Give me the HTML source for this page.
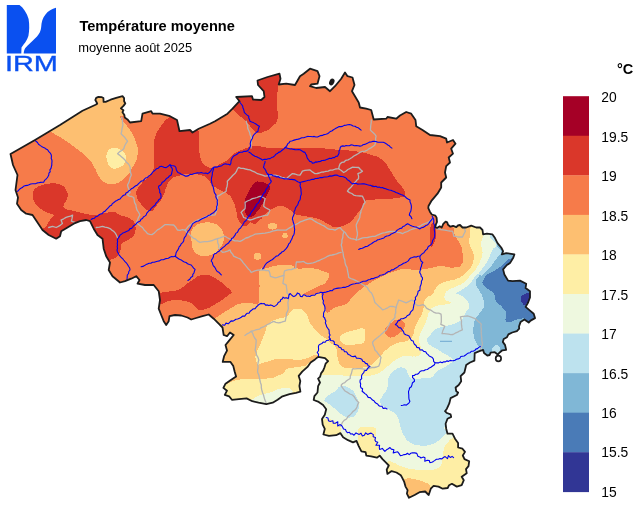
<!DOCTYPE html>
<html><head><meta charset="utf-8"><title>Température moyenne</title>
<style>
html,body{margin:0;padding:0;background:#fff}
svg{display:block;will-change:transform;font-family:"Liberation Sans",Arial,Helvetica,sans-serif;fill:#000}
</style></head><body>
<svg width="640" height="507" viewBox="0 0 640 507">
<rect width="640" height="507" fill="#fff"/>
<defs><clipPath id="be"><path d="M10.5 154 L35 140 L60 125 L82.5 110.8 L95.6 104.7 L97.2 103.7 L96.6 102.2 L95.3 100 L96.2 97.8 L98.4 96.9 L101.9 97.2 L103.4 98.1 L103.6 101.9 L105.6 101.9 L110.6 99.7 L116.2 97.8 L122.5 96.2 L124.1 98.1 L124.1 101.2 L125.3 103.4 L123.7 105.6 L120.9 108.4 L123.4 110.3 L122.5 112.2 L124.4 115 L124.7 117.5 L127.5 119.4 L130 122.5 L141.2 121.2 L142.5 113.7 L151.2 111.2 L152.5 113.7 L160 113.7 L170 116.2 L177 120 L178.7 127.5 L179.5 131.2 L190 130 L192.5 132.5 L198.7 128.7 L210 123.7 L215 121.2 L227.5 113.7 L232.5 108.7 L239.5 101.2 L236.2 97 L252 96.2 L253 99.5 L261.2 100 L264.5 97 L263.7 91.2 L258 85 L257.5 80.5 L267.5 77 L279.5 73.7 L280.5 78.7 L278.7 84.5 L286.2 83.7 L295 85 L300 76.2 L303.7 73.7 L310 68.7 L317.5 71.2 L319.5 76.2 L317.5 83.7 L311.2 84.5 L310 86.2 L316.2 88 L325 87 L330 91.2 L335 86.2 L341.2 78.7 L345 72.5 L347.5 76.2 L352.5 77.5 L354.5 85 L352 91.2 L358.7 102.5 L360 107.5 L366.2 108.7 L371.2 110 L373.7 119.5 L386.2 118.7 L387.5 117 L396.2 118.7 L400 115.5 L406.2 112 L411.2 113.7 L415.5 120 L416.2 126.2 L422.5 130 L430 135 L440 136.2 L446.2 138.7 L447 142.5 L453 140 L455.5 143.7 L451.2 148.7 L453 153.7 L448.7 157.5 L450 162.5 L446.2 166.2 L445 172.5 L446.2 177.5 L441.2 182.5 L441.2 187.5 L437.5 193.7 L431.2 201.2 L428.5 206 L428.3 208.2 L429.9 211.7 L431.8 214.5 L435.4 215.6 L436.6 217.6 L437 222 L435.8 224.7 L435.4 227.5 L437 227.9 L439.7 226.3 L441.7 227.5 L443.3 223.9 L445.6 221.6 L447.2 222.4 L448 224.7 L450.4 226.7 L453.1 225.9 L456.3 227.1 L457.9 225.5 L460 225 L462.5 227.5 L466.2 227.5 L471.2 225.6 L476.2 227.5 L480 227.5 L482.5 230 L483.1 234.4 L486.9 233.7 L492.5 234.4 L495 238.1 L497.5 243.1 L501.2 247.5 L503.1 251.2 L501.9 254.4 L506.2 253.1 L514.4 254.4 L513.1 258.1 L510 263.1 L506.9 265 L503.1 269.4 L504.4 274.5 L508.1 280.6 L512.5 281.2 L520 280.6 L526.2 283.7 L525.6 288.1 L530 291.2 L530 297.5 L528.1 302.5 L525.6 306.9 L530 310.6 L533.7 313.7 L535 318.1 L530.6 320.6 L528.7 322.5 L524.4 319.4 L520.6 321.9 L519 326.5 L519.2 328.7 L516.9 331.1 L512.2 332.5 L508.4 334.4 L507 337.2 L503.7 339 L502.8 341.9 L505.1 345.1 L506.1 349.8 L502.3 350.3 L500 352.2 L497.8 354.4 L494.8 352.2 L490.6 352.6 L489.7 355 L487.3 355.5 L484 353.1 L483.1 349.8 L479.4 351.2 L474.7 353.1 L474.4 360.6 L470 362.5 L466.2 365 L464.4 372.5 L460.6 376.2 L461.2 381.2 L458.7 385 L455.6 387.5 L456.2 391.2 L458.1 392.5 L456.9 395 L450.6 398.1 L449.4 403.1 L446.9 408.7 L445 411.2 L446.9 413 L450.6 414.4 L451.2 416.9 L447.5 418.7 L445.6 423.7 L446.2 428.7 L447.5 433.7 L452.5 433.7 L455 438.7 L458.1 443.1 L458.1 447.5 L462.5 448.7 L465 451.9 L462.8 455.5 L464.5 459.1 L469.2 461.2 L468.5 466.2 L466 469.2 L466.7 473.2 L461.7 476.7 L463.8 480.2 L461.7 485.2 L456.8 486.6 L451.9 483.8 L449.1 485.2 L447.7 488 L442.7 488.7 L438.5 486.6 L433.6 485.9 L430.8 488.7 L428.7 495 L425.2 491.5 L419.5 492.2 L414.6 495 L409 497.8 L406.9 493.6 L407.6 490.1 L405.5 486.6 L404.1 481.6 L402 477.4 L400.8 475.3 L396.5 472.5 L391.6 471.1 L387.4 473.9 L386.7 469.7 L388.8 465.5 L386 462.7 L382.5 459.1 L379.7 455.6 L376.9 457.7 L371.2 456.3 L366.3 455.6 L365.6 452.1 L361.4 451.4 L358.6 445.8 L356.5 440.9 L353 442.3 L348 440.2 L343.1 437.3 L340.3 433.1 L336.1 435.2 L329 435.9 L323.4 434.5 L324.8 428.9 L322.7 424.7 L322 419.1 L324.8 414.8 L326.2 409.2 L323.1 405 L318.7 401.9 L313.7 400 L314.4 396.2 L317.5 392.5 L318.1 386.2 L320 382.5 L318.1 378.7 L320 376.9 L321.2 373.1 L323.1 370.6 L324.4 367.5 L325.6 363.7 L328.1 361.2 L325 358.1 L318.1 356.9 L315 359.4 L310.6 362.5 L307.5 366.9 L302.2 371.7 L298.7 375.9 L300.3 381 L299.4 386 L300.4 391.6 L295.9 392.8 L289.5 394.2 L282.5 396.3 L277.6 399.8 L272.7 402.7 L266.3 404.1 L258.6 402.7 L252.3 401.2 L246.6 398.4 L238.9 399.1 L231.9 399.8 L229.1 396.3 L224.8 394.9 L227 390.7 L223.4 387.9 L225.5 383.7 L230.5 380.2 L236.1 376.6 L234.7 371.7 L233.3 366.1 L230.5 361.9 L222.7 361.9 L224.1 356.2 L227 350.6 L225.5 345 L228.7 341.2 L233.7 335 L230 332.5 L227 336.2 L223.7 335 L222.5 327.5 L218.7 323.7 L213.7 318.7 L208.7 314.5 L202.5 316.2 L196.2 318 L191.2 319.5 L187.5 317.5 L181.2 315.5 L175 315 L169.5 316.2 L168.7 321.2 L166.2 325 L163.7 321.2 L161.2 315 L158.7 308.7 L160 300 L158.7 291.2 L153.7 285 L145 285 L137.5 283.7 L139.5 280 L136.2 276.2 L131.2 278.7 L125 281.2 L120 282.5 L112.5 276.2 L108.7 270 L110 262.5 L106.2 256.2 L103.7 248.7 L102.5 238.7 L97.5 235 L93.7 228.7 L90 221.2 L86.2 220 L80 221.2 L73.7 223.7 L67.5 227.5 L61.2 231.2 L60 236.2 L56.2 238.7 L48.7 235 L42.5 230 L37.5 222.5 L32.5 215 L26.2 213.7 L21.2 210 L17 203.7 L18 197.5 L15.5 190 L17.5 175 L13 165Z"/></clipPath></defs>
<g fill="#0a50f0">
<path d="M6.8 5 L19.5 5 C23.5 8 27 13 28.6 19 C29.6 25 29.3 31 28.4 36 C27 40.5 24 44 21.5 47.5 L21.3 53.6 L6.8 53.6Z"/>
<path d="M56 7.8 C52 8.8 48 11 45.5 14.5 C42.5 18 41.5 22 41.2 27 C40.8 31 39.5 33.5 37 36.5 C33 40.5 28.5 44.5 25.3 48 C24 50 23.8 52 23.7 53.6 L56 53.6Z"/>
<text x="4.9" y="70.6" font-size="22" textLength="53" lengthAdjust="spacingAndGlyphs" stroke="#0a50f0" stroke-width="0.35">IRM</text>
</g>
<text x="79.4" y="30.8" font-size="14.6" font-weight="bold">Température moyenne</text>
<text x="78.2" y="51.7" font-size="12.9">moyenne août 2025</text>
<g clip-path="url(#be)" shape-rendering="crispEdges">
<rect x="0" y="60" width="560" height="447" fill="#f67b4a"/>
<path d="M233.7 110 C239.4 117 241.5 116.5 246.2 121.2 C250.9 125.9 248.2 124.5 251.2 127.5 C254.2 130.5 253.8 131.5 257.5 132.5 C261.2 133.5 261 132.9 265 131.2 C269 129.5 269.2 129.5 272.5 126.2 C275.8 122.9 276.3 124.4 277.5 118.7 C278.7 113 277 112 277 105 C277 98 277 98 277.5 92.5 C278 87 276.7 91.8 278.7 84.5 C280.7 77.2 291.3 68.9 285 65 C278.7 61.1 271 62 255 70 C239 78 230.7 84.3 225 95 C219.3 105.7 228 103 233.7 110Z" fill="#da372a"/>
<path d="M168.7 117.5 C163.4 122.2 163.7 122.2 160 127.5 C156.3 132.8 156.7 131.5 155 137.5 C153.3 143.5 154 142 153.7 150 C153.4 158 154.7 160.8 153.7 167.5 C152.7 174.2 153 171 150 175 C147 179 146 178.5 142.5 182.5 C139 186.5 138.5 186.1 137 190 C135.5 193.9 135.9 193.3 137 197 C138.1 200.7 138.3 200.5 141 204 C143.7 207.5 144.1 208.1 147 210 C149.9 211.9 149.9 211.7 152 211 C154.1 210.3 152.2 211.1 155 207.5 C157.8 203.9 159.5 202.8 162.5 197.5 C165.5 192.2 164.2 192.2 166.2 187.5 C168.2 182.8 167 183 170 180 C173 177 172.2 177.9 177.5 176.2 C182.8 174.5 184 174 190 173.7 C196 173.4 195.3 173.7 200 175 C204.7 176.3 204.2 176 207.5 178.7 C210.8 181.4 209.2 182 212.5 185 C215.8 188 216 187.7 220 190 C224 192.3 224.2 191 227.5 193.7 C230.8 196.4 230.2 195.7 232.5 200 C234.8 204.3 234.9 205.3 236.2 210 C237.5 214.7 236.2 213.8 237.5 217.5 C238.8 221.2 238.9 221.4 241.2 223.7 C243.5 226 243.9 226.5 246.2 226.2 C248.5 225.9 247.7 223.2 250 222.5 C252.3 221.8 252.3 224.4 255 223.7 C257.7 223 256.7 223 260 220 C263.3 217 263.5 215.8 267.5 212.5 C271.5 209.2 271 209.2 275 207.5 C279 205.8 278.5 205.5 282.5 206.2 C286.5 206.9 286.7 207.9 290 210 C293.3 212.1 291 212.3 295 214 C299 215.7 299 214.9 305 216.2 C311 217.5 311.5 216.7 317.5 218.7 C323.5 220.7 322.8 221.5 327.5 223.7 C332.2 225.9 330.7 226.5 335 227 C339.3 227.5 339.4 227 343.7 225.5 C348 224 347.9 224 351.2 221.2 C354.5 218.4 353.2 218.7 356.2 215 C359.2 211.3 360.2 211.2 362.5 207.5 C364.8 203.8 361.7 203.3 365 201.2 C368.3 199.1 368.3 200.2 375 199.5 C381.7 198.8 383.3 199.2 390 198.7 C396.7 198.2 396 198.5 400 197.5 C404 196.5 404.3 197.7 405 195 C405.7 192.3 404.8 191.5 402.5 187.5 C400.2 183.5 399.5 184.7 396.2 180 C392.9 175.3 393.7 175.3 390 170 C386.3 164.7 387.8 164.1 382.5 160 C377.2 155.9 377.3 156.8 370 154.5 C362.7 152.2 364.3 152.5 355 151.2 C345.7 149.9 345 150.4 335 149.5 C325 148.6 326.8 148.5 317.5 148 C308.2 147.5 308.7 147.5 300 147.5 C291.3 147.5 293 147.9 285 148 C277 148.1 277.3 148.5 270 148 C262.7 147.5 262.8 146.3 257.5 146 C252.2 145.7 253.3 146.3 250 147 C246.7 147.7 249 147.1 245 148.7 C241 150.3 239.7 150 235 153 C230.3 156 231.5 157.1 227.5 160 C223.5 162.9 223.9 162 220 164 C216.1 166 216.7 167 213 167.5 C209.3 168 209.3 168 206.2 166 C203.1 164 203.2 165.6 201.2 160 C199.2 154.4 199.4 152.3 198.7 145 C198 137.7 199.7 139.2 198.7 132.5 C197.7 125.8 200 126 195 120 C190 114 187 110.7 180 110 C173 109.3 174 112.8 168.7 117.5Z" fill="#da372a"/>
<path d="M33.7 190 C32.9 192.5 32 193.2 33 197.5 C34 201.8 33.6 202.2 37.5 206.2 C41.4 210.2 43.2 210.2 47.5 212.5 C51.8 214.8 53 213 53.7 215 C54.4 217 52 217 50 220 C48 223 48.2 223.2 46.2 226.2 C44.2 229.2 41.5 226.2 42.5 231.2 C43.5 236.2 41.3 244.8 50 245 C58.7 245.2 64.9 237.1 75 232 C85.1 226.9 83 226.5 88 226 C93 225.5 90.5 226.3 93.7 230 C96.9 233.7 97.7 234.7 100 240 C102.3 245.3 100.5 245.3 102.5 250 C104.5 254.7 105.2 255 107.5 257.5 C109.8 260 108.7 259.8 111.2 259.5 C113.7 259.2 114.5 258.7 117 256.2 C119.5 253.7 119.2 253.3 120.5 250 C121.8 246.7 119.5 246.7 122 243.7 C124.5 240.7 126.7 241.4 130 238.7 C133.3 236 133.2 237.4 134.5 233.7 C135.8 230 136.2 229 135 225 C133.8 221 134 221.4 130 218.7 C126 216 124.3 216.8 120 215 C115.7 213.2 117.7 212.5 113.7 212 C109.7 211.5 110 212.2 105 213 C100 213.8 100.3 214.8 95 215 C89.7 215.2 90.3 214.7 85 213.7 C79.7 212.7 80.2 212.5 75 211.2 C69.8 209.9 68.5 210.4 65.5 208.7 C62.5 207 63.2 208 63.7 205 C64.2 202 66.8 201.5 67.5 197.5 C68.2 193.5 67.7 193.2 66.2 190 C64.7 186.8 64.7 187.2 62 185.5 C59.3 183.8 59.2 184 56 183.5 C52.8 183 53.7 183.1 50 183.5 C46.3 183.9 45.7 183.8 42 185 C38.3 186.2 38.2 186.7 36 188 C33.8 189.3 34.5 187.5 33.7 190Z" fill="#da372a"/>
<path d="M161.3 292.6 C166.1 292.1 166.2 292.1 171.1 291.2 C176 290.3 175.4 291 179.5 289.1 C183.6 287.2 182.8 286.7 186.6 284.1 C190.4 281.5 190.2 281.4 193.6 279.2 C197 277 196 276.9 199.2 275.7 C202.4 274.5 202.1 274.6 205.5 274.8 C208.9 275 208.3 274.9 211.9 276.4 C215.5 277.9 215.1 278 218.9 280.6 C222.7 283.2 222.6 283.3 226 286.3 C229.4 289.3 230.9 289.7 231.6 291.9 C232.3 294.1 231.4 292.5 228.8 294.7 C226.2 296.9 225.8 297.5 221.7 300.3 C217.6 303.1 217.4 302.9 213.3 305.2 C209.2 307.5 210.2 307.7 206.3 308.8 C202.4 309.9 201.9 310.5 198.5 309.5 C195.1 308.5 196.4 307.3 193.6 305.2 C190.8 303.1 192.1 303 188 301.7 C183.9 300.4 183.4 300.5 178.1 300.3 C172.8 300.1 172.6 300.1 168.3 301 C164 301.9 166.1 302.7 162 303.8 C157.9 304.9 155.4 307.9 153 305 C150.6 302.1 150.8 296.3 153 293 C155.2 289.7 156.5 293.1 161.3 292.6Z" fill="#da372a"/>
<path d="M431 225 C432.2 221.5 433.2 222.3 434.5 225 C435.8 227.7 436.1 230.2 436 235 C435.9 239.8 435.3 239.8 434 243 C432.7 246.2 432.1 248.3 431 247 C429.9 245.7 430 243.9 430 238 C430 232.1 429.8 228.5 431 225Z" fill="#da372a"/>
<path d="M255 182.5 C257.7 181 257.5 181.3 261.2 182 C264.9 182.7 266.4 183.2 268.7 185 C271 186.8 270.7 185.7 270 188.7 C269.3 191.7 268.2 192.2 266.2 196.2 C264.2 200.2 264.8 199.7 262.5 203.7 C260.2 207.7 260.2 207.9 257.5 211.2 C254.8 214.5 255.2 215.1 252.5 216.2 C249.8 217.3 249.6 217.2 247.5 215.5 C245.4 213.8 245.3 213.5 244.5 210 C243.7 206.5 243.7 206.8 244.5 202.5 C245.3 198.2 245.7 197.7 247.5 193.7 C249.3 189.7 249.2 190.5 251.2 187.5 C253.2 184.5 252.3 184 255 182.5Z" fill="#a50026"/>
<path d="M45 128 C52.7 119.5 59.3 110.1 80 100 C100.7 89.9 109.2 90 122.5 90 C135.8 90 129.6 93.6 130 100 C130.4 106.4 126.7 109.3 124 114 C121.3 118.7 118.4 113.2 120 117.5 C121.6 121.8 125.7 123.3 130 130 C134.3 136.7 134 135.8 136 142.5 C138 149.2 138.4 148.3 137.5 155 C136.6 161.7 135.8 161.5 132.5 167.5 C129.2 173.5 129.7 173.2 125 177.5 C120.3 181.8 120.3 182.4 115 183.7 C109.7 185 109.3 184.6 105 182.5 C100.7 180.4 101.7 180.4 98.7 176 C95.7 171.6 96.7 170.9 93.7 166 C90.7 161.1 92.5 162.4 87.5 157.5 C82.5 152.6 81.7 152.5 75 147.5 C68.3 142.5 68.9 142.8 62.5 138.7 C56.1 134.6 55.7 134.9 51 132 C46.3 129.1 37.3 136.5 45 128Z" fill="#fdbf71"/>
<path d="M191.2 232.5 C192.1 228.6 192 228.7 195 226.2 C198 223.7 197.8 223.9 202.5 223 C207.2 222.1 207.8 221.8 212.5 223 C217.2 224.2 217 224.3 220 227.5 C223 230.7 223 230.7 223.7 235 C224.4 239.3 224 239.7 222.5 243.7 C221 247.7 220.8 247.1 218 250 C215.2 252.9 215.7 252.9 212 254.5 C208.3 256.1 208 256.1 204 256 C200 255.9 200.1 256.1 197 254 C193.9 251.9 194 251.5 192.5 248 C191 244.5 191.8 245.1 191.5 241 C191.2 236.9 190.3 236.4 191.2 232.5Z" fill="#fdbf71"/>
<path d="M267.5 226.2 C267.5 224.7 268 224.2 270 223.5 C272 222.8 273 222.8 275 223.5 C277 224.2 277.5 224.7 277.5 226.2 C277.5 227.7 277 228.3 275 229 C273 229.7 272 229.7 270 229 C268 228.3 267.5 227.7 267.5 226.2Z" fill="#fdbf71"/>
<path d="M282 235.7 C282 234.1 283.4 232.7 285 232.7 C286.6 232.7 288 234.1 288 235.7 C288 237.3 286.6 238.7 285 238.7 C283.4 238.7 282 237.3 282 235.7Z" fill="#fdbf71"/>
<path d="M253.5 256.2 C253.5 254.2 255.4 252.5 257.5 252.5 C259.6 252.5 261.5 254.2 261.5 256.2 C261.5 258.2 259.6 260 257.5 260 C255.4 260 253.5 258.2 253.5 256.2Z" fill="#fdbf71"/>
<path d="M195 345 C195 298.3 200.7 336 205 330 C209.3 324 208.3 325.5 211 322.5 C213.7 319.5 212.6 320.7 215 318.7 C217.4 316.7 216 317.7 220 315 C224 312.3 224.7 311.7 230 308.7 C235.3 305.7 234.7 305.2 240 303.7 C245.3 302.2 246.1 302.9 250 303 C253.9 303.1 252.4 304.1 254.7 303.9 C257 303.7 257.4 306.9 258.7 302.3 C260 297.7 259.3 294.9 259.5 286.5 C259.7 278.1 257.8 275.6 259.5 270.8 C261.2 266 260.8 269.9 265.8 268.4 C270.8 266.9 271.7 266.1 278.4 265.3 C285.1 264.5 286 264.5 291 265.3 C296 266.1 291.4 267.6 297.3 268.4 C303.2 269.2 305.9 267.5 313 268.4 C320.1 269.3 319.8 269.9 324 271.6 C328.2 273.3 328.4 271.8 328.9 274.7 C329.4 277.6 328.2 279.6 325.7 282.6 C323.2 285.6 322.8 284.1 319.4 285.8 C316 287.5 316.8 287 313 288.9 C309.2 290.8 307.7 291.4 305.2 292.9 C302.7 294.4 302.3 293.8 303.6 294.4 C304.9 295 306.6 295.3 310 295.2 C313.4 295.1 313.5 294.6 316.2 294 C318.9 293.4 318.5 291.5 320.2 292.9 C321.9 294.3 321.3 295.4 322.6 299.2 C323.9 303 323.6 303.4 324.9 307 C326.2 310.6 325.4 312 327.3 312.6 C329.2 313.2 329.1 311.1 332 309.4 C334.9 307.7 334.5 307.8 338.3 306.3 C342.1 304.8 342.4 306.4 346.2 303.9 C350 301.4 348.8 300.7 352.5 297 C356.2 293.3 355.3 293.7 360 290 C364.7 286.3 364 286.7 370 283 C376 279.3 375.8 279.3 382.5 276.2 C389.2 273.1 389 273.2 395 271.2 C401 269.2 399.7 269 405 268.7 C410.3 268.4 409 270 415 270 C421 270 420.8 269.7 427.5 268.7 C434.2 267.7 433 266.5 440 266.2 C447 265.9 447.8 268.2 453.7 267.5 C459.6 266.8 459.7 267.7 462 263.7 C464.3 259.7 463 257.8 462.5 252.5 C462 247.2 461.9 248 460 243.7 C458.1 239.4 457.2 240.2 455.5 236.2 C453.8 232.2 454.2 234.4 453.7 228.7 C453.2 223 425.4 218.7 453.7 215 C482 211.3 531.7 137.7 560 215 C588.3 292.3 654.7 427.7 560 505 C465.3 582.3 302.3 547.7 205 505 C107.7 462.3 195 391.7 195 345Z" fill="#fdbf71"/>
<path d="M384.7 330 C385.4 327.3 386.1 327.1 389.4 324.4 C392.7 321.7 393.2 320.4 396.9 319.7 C400.6 319 401.5 319.4 403.4 321.6 C405.3 323.8 405.3 324.8 404 328 C402.7 331.2 402.1 331.2 398.7 333.7 C395.3 336.2 394.4 337.2 391.2 337.5 C388 337.8 388.3 336.7 386.6 334.7 C384.9 332.7 384 332.7 384.7 330Z" fill="#f67b4a"/>
<path d="M107.5 152.5 C109 149.3 109.2 148.8 112.5 148 C115.8 147.2 116.5 147.6 120 149.5 C123.5 151.4 124.4 151.5 125.7 155 C127 158.5 126.9 159.2 125 162.5 C123.1 165.8 122.4 166.2 118.7 167.5 C115 168.8 114.3 169.5 111.2 167.5 C108.1 165.5 108 164 107 160 C106 156 106 155.7 107.5 152.5Z" fill="#feeea5"/>
<path d="M470.6 215 C446.8 217.9 470.8 221 470.6 226 C470.4 231 470.3 229 470 233.7 C469.7 238.4 468.7 239 469.4 243.7 C470.1 248.4 471.4 247.5 472.5 251.2 C473.6 254.9 473.9 253.8 473.7 257.5 C473.5 261.2 473.4 261.5 471.9 265 C470.4 268.5 470.5 267.7 468 270.5 C465.5 273.3 466 273.2 462.5 275.6 C459 278 460 277.6 455 279.4 C450 281.2 448.7 280 443.7 282.2 C438.7 284.4 439.2 284.5 436.2 287.8 C433.2 291.1 435.2 291.7 432.5 294.4 C429.8 297.1 428.3 295 426 298 C423.7 301 425 301.6 424 305.6 C423 309.6 423.7 309 422.2 313 C420.7 317 420.4 316.6 418.4 320.6 C416.4 324.6 416.2 324 414.7 328 C413.2 332 414.6 332.3 412.8 335.6 C411 338.9 411.3 338.5 408 340.3 C404.7 342.1 404.1 341.2 400.6 342.2 C397.1 343.2 398.5 342.3 395 344 C391.5 345.7 391.2 345.7 387.5 348.7 C383.8 351.7 384 352.2 381 355.2 C378 358.2 379.2 357.3 376.3 360 C373.4 362.7 374.3 363.4 370 365.5 C365.7 367.6 365.3 367.2 360 367.9 C354.7 368.6 354.8 368.7 350 368.3 C345.2 367.9 345.2 369 342 366.5 C338.8 364 339.5 363.9 338 359 C336.5 354.1 338.3 352.4 336.2 348 C334.1 343.6 333 345.2 330 342.5 C327 339.8 327.8 340.3 325 338 C322.2 335.7 322.1 336.3 319.4 333.9 C316.7 331.5 317.2 332 314.7 329 C312.2 326 311.9 326.1 310 322.8 C308.1 319.5 309.3 319.6 307.6 316.5 C305.9 313.4 306.3 313.1 303.6 311 C300.9 308.9 300.7 308.6 297.3 308.6 C293.9 308.6 293.9 308.9 291 311 C288.1 313.1 290.5 314.2 286.3 316.5 C282.1 318.8 280.1 317.6 275.2 319.7 C270.3 321.8 270.7 321 268 324.4 C265.3 327.8 267.1 327 265 332.5 C262.9 338 262.5 339.1 260 345 C257.5 350.9 256.9 351.1 255.8 354.8 C254.7 358.5 255.2 356.4 255.8 359 C256.4 361.6 256.4 363.6 257.9 364.7 C259.4 365.8 257.8 364.4 261.4 363.3 C265 362.2 267.2 361.6 271.3 360.5 C275.4 359.4 272.4 359.4 276.9 359 C281.4 358.6 282.1 358.8 288.1 359 C294.1 359.2 293.9 360.2 299.4 359.8 C304.9 359.4 304.7 358.8 308.7 357.5 C312.7 356.2 311.7 355.5 314.4 355 C317.1 354.5 317 353.9 319 355.5 C321 357.1 323.3 357.9 322 361 C320.7 364.1 317.7 363.3 314 367 C310.3 370.7 311.7 370.2 308 375 C304.3 379.8 299.5 373 300 385 C300.5 397 302 405.3 310 420 C318 434.7 306 417.3 330 440 C354 462.7 338.7 487.7 400 505 C461.3 522.3 517.3 582.3 560 505 C602.7 427.7 583.8 292.3 560 215 C536.2 137.7 494.4 212.1 470.6 215Z" fill="#feeea5"/>
<path d="M340 338.7 C339.7 335.8 339.7 336 343.7 333.7 C347.7 331.4 349.7 331.3 355 330 C360.3 328.7 361 327.4 363.7 328.7 C366.4 330 365 331.3 365 335 C365 338.7 366.4 340 363.7 342.5 C361 345 360 344 355 344.5 C350 345 349 346 345 344.5 C341 343 340.3 341.6 340 338.7Z" fill="#feeea5"/>
<path d="M215 386 C218.2 381.7 222.5 384.9 227 383.7 C231.5 382.5 228.4 382.7 231.9 381.6 C235.4 380.5 235.4 380.3 240.3 379.5 C245.2 378.7 244.6 378.9 250.2 378.7 C255.8 378.5 255.8 378.9 261.4 378.7 C267 378.5 267.2 378.7 271.3 378 C275.4 377.3 273.5 377.2 276.9 375.9 C280.3 374.6 281.3 375 283.9 373.1 C286.5 371.2 284.1 370.4 286.7 368.9 C289.3 367.4 290.4 368.1 293.8 367.5 C297.2 366.9 296.4 367.2 299.4 366.8 C302.4 366.4 301.6 366.2 305 366 C308.4 365.8 310.7 356.9 312 366 C313.3 375.1 323.9 387.7 310 400 C296.1 412.3 285.3 412 260 412 C234.7 412 227 406.9 215 400 C203 393.1 211.8 390.3 215 386Z" fill="#feeea5"/>
<path d="M406.2 478.7 C410.3 477.4 412.5 479 417.5 480 C422.5 481 421.7 480.8 425 482.5 C428.3 484.2 428.1 482.1 430 486.2 C431.9 490.3 438.7 493.8 432 498 C425.3 502.2 413 505.5 405 502 C397 498.5 401.7 491.2 402 485 C402.3 478.8 402.1 480 406.2 478.7Z" fill="#fdbf71"/>
<path d="M483.1 220 C462.6 223.7 483.6 227.4 483.1 233.7 C482.6 240 481.4 238.7 481.2 243.7 C481 248.7 482.7 248.2 482.5 252.5 C482.3 256.8 481.9 256.3 480.6 260 C479.3 263.7 479.3 263.1 477.5 266.2 C475.7 269.3 476 269 474 271.5 C472 274 472.6 272.7 470 275.6 C467.4 278.5 468.4 279.2 464.4 282.2 C460.4 285.2 459.5 284.7 455 286.9 C450.5 289.1 450.2 288.4 447.5 290.6 C444.8 292.8 445.2 292.8 444.7 295.3 C444.2 297.8 443.9 298 445.6 300 C447.3 302 451.7 301.5 451.2 302.8 C450.7 304.1 448.2 303.7 443.7 304.7 C439.2 305.7 438.1 304.9 434.4 306.6 C430.7 308.3 431.7 308 429.7 311.2 C427.7 314.4 428.4 314.7 426.9 318.7 C425.4 322.7 425.8 322.2 424 326.2 C422.2 330.2 421.7 330 420.3 333.7 C418.9 337.4 418.8 336.7 418.9 340 C419 343.3 419.8 343.1 420.5 346 C421.2 348.9 421.9 348.5 421.5 351 C421.1 353.5 421.3 354 419 355.5 C416.7 357 416.5 356.4 413 356.5 C409.5 356.6 409.5 355.7 406 356 C402.5 356.3 403.2 356.2 400 357.5 C396.8 358.8 397.2 358.7 394 361 C390.8 363.3 391.2 363.3 388 366 C384.8 368.7 385.5 368.7 382 371 C378.5 373.3 379.5 373.2 375 374.5 C370.5 375.8 370.3 375.6 365 376 C359.7 376.4 360.3 376.1 355 376 C349.7 375.9 349.7 376 345 375.7 C340.3 375.4 341.5 375.1 337.5 375 C333.5 374.9 334 375.5 330 375.5 C326 375.5 327.8 374.6 322.5 375 C317.2 375.4 314.7 370.3 310 377 C305.3 383.7 304.5 389.1 305 400 C305.5 410.9 307.5 413.1 312 418 C316.5 422.9 316.3 417.8 322 418.5 C327.7 419.2 328.6 418.5 333.3 420.5 C338 422.5 337.5 422.9 339.6 426.1 C341.7 429.3 340.5 429.2 341 432.4 C341.5 435.6 339.1 434.9 341.5 438 C343.9 441.1 345.9 442.4 350 444 C354.1 445.6 354.8 446.7 357 444 C359.2 441.3 357.9 438 358.3 434 C358.7 430 357.4 430.7 358.6 428.9 C359.8 427.1 358.7 427.7 362.8 427.3 C366.9 426.9 370.4 426.1 374 427.3 C377.6 428.5 375.8 429 376.2 431.7 C376.6 434.4 375.1 434.3 375.5 437.3 C375.9 440.3 376.7 440.4 377.6 443 C378.5 445.6 378.4 444.5 379 447.2 C379.6 449.9 379.2 449.9 379.7 453 C380.2 456.1 379.6 456.1 381 459 C382.4 461.9 383.1 463.4 385 464 C386.9 464.6 385.8 461.6 388.1 461.3 C390.4 461 390.8 461.6 393.8 462.7 C396.8 463.8 396.4 464.2 399.4 465.5 C402.4 466.8 400.8 466.5 405 467.6 C409.2 468.7 408.7 468.9 415 469.5 C421.3 470.1 423 470.2 428.7 470 C434.4 469.8 433 469.7 436.2 468.7 C439.4 467.7 439.1 468.2 440.6 466.2 C442.1 464.2 441.2 464.2 441.9 461.2 C442.6 458.2 442.4 458.7 443.1 455 C443.8 451.3 443.1 450.8 444.4 447.5 C445.7 444.2 445.9 445 448.1 442.5 C450.3 440 446.7 441.4 452.5 438.1 C458.3 434.8 441.3 432.2 470 430 C498.7 427.8 536 486 560 430 C584 374 580.5 276 560 220 C539.5 164 503.6 216.3 483.1 220Z" fill="#eef8df"/>
<path d="M250 402 C249.7 398.5 251 400.6 253.7 398.7 C256.4 396.8 255.7 396.7 260 395 C264.3 393.3 264.7 394.2 270 392.5 C275.3 390.8 275.3 389.9 280 388.7 C284.7 387.5 284.2 387.3 287.5 388 C290.8 388.7 291.6 389.1 292.5 391.2 C293.4 393.3 291.7 391 291 396 C290.3 401 299.6 405.7 290 410 C280.4 414.3 265.7 414.1 255 412 C244.3 409.9 250.3 405.5 250 402Z" fill="#eef8df"/>
<path d="M497 232 C480 236 497.2 240.5 496.2 245 C495.2 249.5 494.6 246.4 493.1 248.7 C491.6 251 491.8 251 490.6 253.7 C489.4 256.4 490.2 255.7 488.7 258.7 C487.2 261.7 487 262 485 265 C483 268 482.9 267.7 481.2 270 C479.5 272.3 480 272 478.5 273.5 C477 275 477.4 273.5 475.6 275.6 C473.8 277.7 474.4 278.2 471.9 281.2 C469.4 284.2 469.7 284.1 466.2 286.9 C462.7 289.7 461.4 289.9 458.7 291.6 C456 293.3 455 292.2 456 293.4 C457 294.6 459.3 293.9 462.5 296.2 C465.7 298.5 466.3 298.9 468 301.9 C469.7 304.9 469.7 304.5 469 307.5 C468.3 310.5 467 310 465.3 313 C463.6 316 465.2 315.9 462.5 318.7 C459.8 321.5 459.5 321.4 455 323.4 C450.5 325.4 450.6 324.7 445.6 326.2 C440.6 327.7 440.2 326.7 436.2 329 C432.2 331.3 433.1 331.8 430.6 334.7 C428.1 337.6 427.2 337.3 427 340 C426.8 342.7 427.5 342.7 430 345 C432.5 347.3 432.9 346.7 436.2 348.7 C439.5 350.7 439.4 350.7 442.5 352.5 C445.6 354.3 445.2 353.8 448 355.6 C450.8 357.4 451.5 358 453 359.4 C454.5 360.8 454.2 360 453.7 361 C453.2 362 453.2 361.6 451.2 363 C449.2 364.4 449.2 364.5 446.2 366.2 C443.2 367.9 442.8 367.7 440 369.4 C437.2 371.1 437.6 370.5 435.6 372.5 C433.6 374.5 435 375.4 432.5 376.9 C430 378.4 429.9 377.5 426.2 378 C422.5 378.5 422.4 378.3 418.7 378.7 C415 379.1 414.8 379.7 412.5 379.4 C410.2 379.1 411.3 379.3 410 377.5 C408.7 375.7 408.8 374.8 407.5 372.5 C406.2 370.2 407 370 405 368.7 C403 367.4 402.7 367.2 400 367.5 C397.3 367.8 398 367.3 395 370 C392 372.7 390.7 372.8 388.7 377.5 C386.7 382.2 389.2 382.5 387.5 387.5 C385.8 392.5 384.5 392.2 382.5 396.2 C380.5 400.2 378.7 399.2 380 402.5 C381.3 405.8 383.2 405.4 387.5 408.7 C391.8 412 392.9 410.7 396.2 415 C399.5 419.3 398 419.7 400 425 C402 430.3 401 430.3 403.7 435 C406.4 439.7 405.7 439.7 410 442.5 C414.3 445.3 414.4 445 420 445.5 C425.6 446 425.7 446.1 431 444.5 C436.3 442.9 435.9 442.4 440 439.5 C444.1 436.6 440.9 437.6 446.2 433.7 C451.5 429.8 429.7 427.3 460 425 C490.3 422.7 533.3 477 560 425 C586.7 373 576.8 281.5 560 230 C543.2 178.5 514 228 497 232Z" fill="#bde2ee"/>
<path d="M325 398.7 C326.7 395.4 330.7 394.5 335 391.2 C339.3 387.9 337.2 386.9 341.2 386.2 C345.2 385.5 346 386 350 388.7 C354 391.4 353.9 391.5 356.2 396.2 C358.5 400.9 358.7 401.5 358.7 406.2 C358.7 410.9 358.5 410.7 356.2 413.7 C353.9 416.7 353.7 417.2 350 417.5 C346.3 417.8 346.5 417.3 342.5 415 C338.5 412.7 338.7 411.7 335 408.7 C331.3 405.7 331.4 406.4 328.7 403.7 C326 401 323.3 402 325 398.7Z" fill="#bde2ee"/>
<path d="M504 242 C488.3 245.3 502.9 248.4 501.2 252.5 C499.5 256.6 499.5 254.8 497.5 257.5 C495.5 260.2 495.7 259.8 493.7 262.5 C491.7 265.2 492.3 264.8 490 267.5 C487.7 270.2 487.1 270.4 485 272.5 C482.9 274.6 483.5 274.7 482 275.5 C480.5 276.3 481.1 273.6 479.4 275.6 C477.7 277.6 475.6 279 475.6 283 C475.6 287 477.4 286.6 479.4 290.6 C481.4 294.6 481.8 294 483 298 C484.2 302 484.5 302.1 484 305.6 C483.5 309.1 483.4 307.7 481.2 311.2 C479 314.7 477.6 314.7 475.6 318.7 C473.6 322.7 474.3 322.2 473.7 326.2 C473.1 330.2 472.9 329.7 473.4 333.7 C473.9 337.7 474.1 337.8 475.6 341.2 C477.1 344.6 477.2 344.2 479 346.5 C480.8 348.8 480.9 346.4 482.5 350 C484.1 353.6 464.3 357.3 485 360 C505.7 362.7 540 392 560 360 C580 328 574.9 271.5 560 240 C545.1 208.5 519.7 238.7 504 242Z" fill="#80b7d6"/>
<path d="M492 350.8 C492 348.6 492.5 348.1 493.9 346.6 C495.3 345.1 495.6 345 497.2 345.2 C498.8 345.4 499.2 346 500 347.5 C500.8 349 500.6 349 500.3 351 C500 353 500.7 353.9 499 355 C497.3 356.1 495.9 356.1 494 355 C492.1 353.9 492 353 492 350.8Z" fill="#bde2ee"/>
<path d="M520 250 C507.2 252.2 515.2 255.4 511.9 258.1 C508.6 260.8 510 258.2 507.5 260 C505 261.8 505.2 262.7 502.5 265 C499.8 267.3 500.2 266.9 497.5 268.7 C494.8 270.5 495.2 270.4 492.5 271.9 C489.8 273.4 489.9 272.5 487.5 274.5 C485.1 276.5 484.7 277 483.5 279.5 C482.3 282 481.9 281.5 483 284 C484.1 286.5 484.6 286.1 487.5 288.7 C490.4 291.3 491.4 290.4 493.7 293.7 C496 297 493.9 297.5 496.2 301.2 C498.5 304.9 499.8 304.2 502.5 307.5 C505.2 310.8 505.4 310.4 506.2 313.7 C507 317 504.9 317.7 505.6 320 C506.3 322.3 506.2 322.5 508.7 322.5 C511.2 322.5 511.7 321 515 320 C518.3 319 518.5 318.9 521.2 318.7 C523.9 318.5 522.4 317.7 525 319.4 C527.6 321.1 521.7 323.5 531 325 C540.3 326.5 552.3 345 560 325 C567.7 305 570.7 270 560 250 C549.3 230 532.8 247.8 520 250Z" fill="#4a7bb7"/>
<path d="M523.1 295 C525.1 293.5 525.2 293.4 528.1 293.1 C531 292.8 532.4 291.4 534 294 C535.6 296.6 535.7 300.7 534 303 C532.3 305.3 529.9 301.8 527.5 302.5 C525.1 303.2 526.5 305.6 525 305.6 C523.5 305.6 523.1 304.3 521.9 302.5 C520.7 300.7 520.3 300.7 520.6 298.7 C520.9 296.7 521.1 296.5 523.1 295Z" fill="#313695"/>
</g>
<circle cx="372.6" cy="186" r="1.3" fill="#b3182a" clip-path="url(#be)"/>
<path d="M440 341.3 L452 341.3" stroke="#6fa8d0" stroke-width="1" fill="none"/>
<g clip-path="url(#be)" fill="none" stroke-linejoin="round" stroke-linecap="round">
<g stroke="#b4b4b4" stroke-width="1.3">
<path d="M121.7 117.5 L122.4 120 L122.6 122.5 L122.9 125 L122.4 127.1 L121.9 129.3 L121.7 131.5 L121.1 133.7 L122.8 135.6 L124.6 137.2 L126 139.3 L127.6 141.1 L125.9 143.5 L124.6 146 L123.8 148.7 L121.7 150.5 L119.4 151.9 L117.6 153.8 L119.5 155.1 L121.4 156.7 L123.2 158.3 L125 160 L126.4 162.3 L128.5 164 L129.9 166.3 L130.3 168.4 L130.3 170.6 L130.6 172.8 L131.3 175 L130.2 177.5 L129.6 180.1 L128.8 182.6 L127.5 185 L128.1 187.6 L129.1 190 L130.1 192.5 L127.4 194.9 L129.4 196.1 L131.7 196.5 L133.7 197.5 L134.2 200 L134.6 202.6 L135.9 204.9 L136.2 207.5 L137.1 210.2 L138.7 212.5 L139.9 215 L138.5 217.4 L137.5 220 L136.3 222.5 L138.3 224.2 L140.4 225.9 L142.5 227.5 L143.9 229.7 L145.9 231.6 L147.5 233.7 L149.7 234.3 L152 234.6 L154 233.2 L155.7 231.6 L157.4 229.9 L159.5 228.8 L161.4 227.5 L163.2 226 L165.1 224.6 L167.9 224.7 L170.8 224.8 L173.7 225 L175.8 227.3 L177.4 230 L180 230.3 L182.5 229.7 L185 230.1 L186.8 228.4 L188.1 226.5 L189.9 224.9 L191.9 223.8 L193.6 222.3 L195.5 221.1 L197.5 220 L200 219.2 L202.6 218.3 L205 217.2 L207.5 216.1 L209.9 215.4 L212.5 215.1 L215 214.9 L215.9 212.5 L216.8 210.1 L217.4 207.5 L217.4 205.2 L217.8 203 L217.4 200.7 L217.7 198.5 L217.5 196.2 L219.7 195.1 L221.8 193.7 L224 192.5 L226.2 191.3 L226.3 188.7 L227.1 186.2 L227.5 183.7 L227.3 181.2 L229.2 179.2 L231.1 177.3 L232.9 175.3 L234.9 173.6 L236.3 171.7 L237.2 169.4 L238.6 167.4 L240.9 168.3 L243.2 168.4 L245.5 169 L247.7 169.5 L250 169.9 L252.5 171.2 L255.1 172.2 L257.5 173.7 L260.1 174.3 L262.6 175.1 L265 176.1 L267.5 175.8 L270 175.9 L272.5 175.4 L275 175.2 L277.3 175.7 L279.5 176.3 L281.7 177.4 L284 177.7 L286.1 178.9 L288.2 177 L290.3 175.2 L292.4 173.6 L295 174 L297.4 174.9 L300 175.2 L301.3 173.1 L302.4 171.1 L304.9 170.4 L307.4 170.1 L310 169.9 L312.4 171.9 L315 173.7 L317.2 173.5 L319.4 173 L321.5 172.2 L323.8 172 L325.9 171.3 L328.2 171.1 L330.3 170.2 L332.5 170.2 L335.5 169 L338.7 168.7 L339.2 166.2 L340.1 163.7 L341.9 162.4 L344.1 162 L345.8 160.3 L348.1 159.9 L350 158.8 L352 157.5 L353.9 156 L356 154.9 L358 153.7 L359.9 152.4 L362.4 151.4 L365.1 151.1 L367.5 150 L369.3 148.6 L371.3 147.6 L373.2 146.3 L374.9 144.9 L375.4 142.8 L375.7 140.6 L375.6 138.4 L376.1 136.2 L374.5 133.9 L372.4 132 L370.4 130.1 L370.6 127.5 L370.8 125 L371.2 122.5 L371.3 120"/>
<path d="M246.2 121.2 L246.8 123.4 L247.7 125.5 L247.7 127.9 L248.5 130 L249.6 132.5 L250.2 135 L251.3 137.5 L251.4 140.1 L251.3 142.8 L250.9 145.4 L251.1 148"/>
<path d="M245 202.5 L247.4 201 L250 200 L252.4 198.6 L254.7 198.2 L256.9 197.5 L259 196.7 L261.2 196.2 L263.1 197.5 L265.1 198.5 L264.5 201.2 L264 203.7 L263.7 206.2 L265.6 207.7 L267.8 208.9 L270 210 L268.9 212.6 L267.6 215.1 L264.9 215.4 L262.5 216.1 L260 216.8 L257.5 217.5 L255 218.3 L252.6 219.4 L250 220 L247.8 219.4 L245.8 218.2 L243.7 217.5 L242.6 214.9 L241.1 212.5 L242.9 210.4 L245 208.7 L245.2 205.6 L245 202.5"/>
<path d="M48.7 227.5 L52.6 226.4 L56.2 227.5 L58.4 226.4 L60.5 225.1 L62.4 223.6 L61 220.1 L63.7 218.8 L66.1 217.4 L68.3 216.6 L70.5 216.1 L72.6 215.1 L72.1 218.2 L71.4 221.2 L75 222.4"/>
<path d="M96.2 227.5 L99.4 227.2 L102.5 226.3 L104.9 227.2 L107.6 227.7 L110 228.6 L111.8 230.1 L113.6 231.3 L115.3 233.1 L116.5 235.3 L117.4 237.6"/>
<path d="M185 230 L186.9 232.3 L189.2 234 L191.1 236.3 L193.2 238.1 L195.7 239.2 L197.7 241.1 L200 242.4 L202.5 241.9 L205 241.7 L207.5 241.7 L210 241.1 L212.5 240.5 L215 239.4 L217.5 238.6 L220 237.8 L222.5 236.9 L225 236.2 L227.4 237.7 L229.8 239 L232.5 239.9 L234.9 240.8 L237.5 240.9 L240 241.4 L242.1 240.4 L244 239.2 L245.9 238 L248.2 237.5 L250.1 236.4 L252.5 235.5 L254.9 234.2 L257.5 233.8 L260 233.6 L262.5 233.4 L265 233.2 L267.5 232.7 L270 232.1 L272.5 231.2 L275 230.6 L277.5 230 L280.4 230.2 L283.3 230.1 L286.2 230.1 L288.1 228.8 L290 227.6 L292 226.6 L293.8 225.1 L296 224.4 L298.2 223.2 L300.2 221.9 L302.5 221.2 L304.9 220.2 L307.4 219.4 L310 218.6 L312.1 219.4 L314 220.7 L315.9 221.9 L317.9 223 L319.9 223.9 L321.8 225 L324 225.9 L325.8 227.2 L327.6 228.6 L329.9 229.4 L332.5 229.4 L335 230.1 L337.5 228.7 L340 227.5 L341.5 229.4 L343.2 230.9 L345.1 232.4 L346.8 235.1 L348.7 237.5 L351.1 238.7 L353.8 239 L356.2 239.9 L358.5 239.7 L360.6 238.7 L362.7 237.8 L365 237.6 L367.5 237.5 L370 236.8 L372.5 236.3 L375 236.3 L377.5 235.2 L379.9 234.2 L382.4 233.1 L385.1 232.6 L387.5 232 L390 231.5 L392.5 231.4 L395 231.3 L397.4 232.4 L400.1 232.6 L402.5 233.7 L404.9 232.3 L407.6 231.5 L410 230 L412.6 229.2 L415.1 228.4 L417.5 227.2 L420 226.2 L422.3 224.6 L424.9 223.5 L427.5 222.6 L430.1 220.8 L432.5 218.7"/>
<path d="M217.5 238.7 L217.6 240.9 L217.8 243.1 L218.8 245.2 L218.5 247.5 L220.4 250.2 L222.6 252.4 L225.1 251.9 L227.6 251.1 L230 249.9 L230.9 252.3 L232.6 254.1 L233.7 256.2 L235.8 257.1 L237.8 258 L240 258.8 L241.8 260.7 L243.3 262.9 L245.1 264.9 L246.7 266.8 L248.1 268.7 L249.9 270.4 L251.2 272.5 L254.8 270.9 L257.8 270.1 L261 270 L263.7 269.9 L266.2 270.7 L268.9 270.6 L269.9 273.5 L270.4 276.3 L272.9 277.1 L275.2 277.9 L277.4 277.4 L279.5 276.7 L281.7 276 L283.9 275.4 L284 273.1 L284.6 270.8 L286.9 270.1 L289.1 269.7 L291.4 269.7 L293.5 268.7 L295.7 268.3 L295.9 265.2 L296.4 262 L298.9 262 L301.3 261.9 L303.6 261.4 L305.4 262.8 L307.6 263.7 L310.3 263.3 L313 262.9 L315.2 262.2 L317.2 261.1 L319.4 260.5 L321.4 259.3 L323.5 258.5 L325.6 257.5 L327.5 256.3 L329.7 255.3 L332.1 255 L334.4 254.5 L336.6 253.8 L338.8 252.8 L341.2 252.3"/>
<path d="M283.9 275.5 L283.8 278.2 L283.3 280.8 L282.9 283.4 L286.3 285.1 L286.5 287.6 L286.9 290.3 L287.1 292.9 L289.3 294.6 L288.7 297 L288.6 299.7 L287.9 302.3 L288.1 305.5 L288.4 308.6 L287.6 311.1 L286.4 313.4 L286.3 316 L285.7 318.6 L285.3 321.2 L283.1 321.6 L280.8 322.5 L278.4 322.8 L275.9 322.3 L273.7 321.3 L271.6 322.3 L269.6 323.6 L267.4 324.5 L265.5 325.7 L263.5 326.8 L261.3 327.6 L259.6 329.1 L256.7 329.6 L254 330.5 L251.2 331.3 L249.2 332.8 L246.9 333.9 L244.9 335.4"/>
<path d="M251.2 331.2 L252.7 333.3 L253.5 335.7 L254.7 338 L256.2 340 L256.1 342.5 L255.8 345 L255.6 347.5 L255.1 350 L256.1 352.4 L256.6 355.1 L258 357.4 L258.8 360 L258.1 362.5 L257.8 365 L258.1 367.5 L257.6 370 L257.7 372.6 L258.8 375 L259.3 377.5 L259.9 380 L260.4 382.5 L261.3 384.9 L261.3 387.5 L261.8 390 L262.5 392.5 L263.5 395 L264.2 397.6 L264.9 400.1 L266 402.6"/>
<path d="M338.7 168.7 L341.3 170.5 L343.7 172.5 L345.9 171.2 L347.9 169.5 L350.3 168.4 L352.6 167.2 L355.6 167.3 L358.7 167.5 L360.4 169.5 L362.5 171.2 L360.3 172.6 L357.9 173.6 L358.6 176.2 L358.5 178.7 L356.9 180.1 L355.6 181.8 L354 183.4 L352.6 185.1 L351 187.2 L349 189 L347.4 191.1 L349.5 192.6 L351.8 193.5 L353.7 195.1 L355.8 195.7 L358.1 195.9 L360.3 196 L362.5 196.2 L363.4 198.3 L364.4 200.3 L365.2 202.4 L363.4 204.8 L362.5 207.5 L361.2 210 L360.8 212.5 L360 214.9 L359.8 217.5 L358.6 219.9 L357.3 222.4 L356.2 225 L356.5 227.5 L356.8 230 L357.4 232.5 L357.4 235.1 L356.7 237.5 L356.2 240"/>
<path d="M343.7 232.5 L342.9 234.9 L342.8 237.5 L341.9 239.9 L341.9 242.5 L341.2 245 L341.9 247.5 L342.2 250 L343 252.4 L343.3 255 L343.8 257.5 L344.8 259.9 L345 262.6 L345.7 265.1 L347 267.4 L347.4 270 L347.9 272.5 L348.4 275 L348.7 277.5 L350.9 278.6 L353.3 279.3 L355.5 280.4 L357.7 281.5 L359.9 282.7 L361.7 284 L363.6 285.2 L365.6 286.2 L367.4 287.6 L368.4 289.6 L369.7 291.4 L371.5 293 L372.5 295 L373.5 297.4 L374.2 300 L374.9 302.5 L376.9 304.4 L378.8 306.2 L380.8 307.9 L382.6 309.9 L385.1 309 L387.7 307.8 L390.1 306.3 L393.2 306.5 L396.2 307.4 L396.8 304.9 L397.8 302.5 L398.6 300 L401.2 300.9 L403.7 301.8 L406.2 302.8 L409.1 301.4 L411.9 300 L414 301.6 L415.4 304 L417.5 305.6 L420.3 305.4 L423 304.6 L425.1 306 L426.5 308.1 L428.7 309.4 L431.3 310.4 L433.5 312.1 L436.1 313.2 L438.7 313.2 L441 314.2 L441.3 316.6 L441.3 319.2 L441.3 321.8 L440.8 324.4 L444.7 326.2 L443.7 328.7 L442.7 331.1 L442 333.7 L444.2 333.6 L446.4 333.8 L448.6 334.1 L450.8 334.6 L453 334.5 L455.2 333.2 L457.6 332.1 L460 330.8 L462.4 329.8 L461.9 327.9 L461.6 325.7 L461.4 323.5 L461.5 321.2 L461 319.1 L460.4 316.9 L463 316.3 L465.5 316.2 L468 316 L470.5 316.9 L473.1 317.8 L475.6 318.8 L477.4 320.7 L479.5 322.4 L481.3 324.3 L480.9 326.7 L481.4 329 L481.2 331.3 L481.3 333.6 L481.5 335.9 L481.8 338.1 L481.8 340.4 L482.3 342.7 L482.3 345 L481.2 347.5 L480.1 350.1"/>
<path d="M396.2 307.5 L395.6 310 L395.8 312.5 L394.9 315 L395 317.5 L393.4 319.2 L391.6 320.8 L390.1 322.6 L389 325.1 L387.5 327.5 L386.3 330 L384.4 331.4 L382.8 333.1 L381 334.6 L379.4 336.1 L377.6 337.6 L375.7 339 L373.9 340.6 L372.5 342.5 L373.1 345.1 L374.3 347.5 L374.9 350 L376.7 351.7 L378.1 353.8 L379.7 355.6 L381.1 357.6 L380.4 359.6 L380.3 361.9 L379.6 364.1 L378.7 366.2 L376.5 367 L374.3 367.5 L371.9 367.5 L369.7 368.1 L367.5 369.2 L365 369.4 L362.5 368.9 L360 368.6 L357.5 368.7 L355 368.8 L352.5 368.9 L351.9 371.4 L351.3 373.8 L350.3 376.1 L350.2 378.5 L348.1 379.7 L346.3 381 L344.8 382.6 L342.7 383.5 L341.1 385.1 L342 387.2 L343.5 389.1 L345 391 L347.5 392.4 L349.8 394 L352.5 395 L354.2 396.7 L355.5 398.8 L356.9 400.8 L358.8 402.4 L357.7 404.5 L357.1 406.7 L356.1 408.7 L354.7 410.3 L352.8 411.6 L351.5 413.4 L349.9 414.9 L347.9 416.6 L346.5 419 L344.1 420.4 L342.4 422.4 L341.5 424.5 L340 426.2"/>
<path d="M436.2 228.7 L438.4 229 L440.6 229.5 L442.8 229.8 L445 230.1 L447.4 230.7 L450 231 L452.5 231.1 L453.3 233.6 L453.7 236.2 L455.9 236.3 L458.1 237 L460.3 237 L462.5 237 L463.9 234 L465.4 231.1 L463.7 227.5"/>
</g><g stroke="#0000f0" stroke-width="1.1">
<path d="M34.5 140 L36 141.3 L37.5 142.5 L38.5 144.2 L40.1 145.4 L41.5 146.4 L43.1 147.2 L44.7 147.9 L46 149.1 L47.6 149.8 L48.8 151.6 L50.3 153.1 L51.3 154.9 L51.4 156.7 L51.2 158.4 L51.9 160 L52 161.6 L51.8 163.3 L51.8 165 L51.4 166.6 L51 168.4 L49.9 169.9 L50.2 171.8 L48.9 173.2 L48.8 175 L48 176.6 L47 178 L45.8 179.3 L44.5 180.4 L43.8 182.1 L42.1 182.2 L40.5 182.4 L38.9 182.8 L37.3 182.9 L35.8 183.6 L34.2 183.8 L32.5 183.8 L30.7 184 L29 184.8 L27.3 185.4 L25.4 185.6 L23.7 186.2 L22.3 187.6 L20.4 188.5 L18.9 189.8 L17.6 191.3"/>
<path d="M91.2 219.5 L92.7 218.5 L94.5 218.2 L95.8 216.7 L97.5 216.3 L98.8 214.9 L100.4 214 L102.2 213.6 L103.4 212 L105 211.3 L106.2 209.9 L107.5 208.7 L108.7 207.4 L109.8 206 L111.5 205.2 L112.4 203.6 L113.9 202.5 L115.3 201.3 L116.9 200.5 L118.5 199.6 L120.1 198.9 L121.2 197.5 L122.3 196.3 L123.6 195.3 L125.3 194.7 L126 193 L127.6 192.3 L128.7 191 L130 190.1 L131.3 188.8 L133 188 L134.3 186.8 L135.8 185.8 L137.4 184.9 L138.6 183.6 L139.9 182.4 L141.2 181.1 L143.1 180.7 L144.3 179.3 L145.5 178 L147.4 177.5 L148.6 176.1 L150.1 175.1 L151.5 174 L152.4 172.4 L153.7 171.2 L155.1 170.1 L156.4 168.8 L158.2 168.3 L159.5 166.8 L161.2 166.3 L162.8 166.8 L164.4 167.5 L166.2 167.6 L168.1 166.3 L169.9 164.9"/>
<path d="M127 280 L127.1 278.3 L127.2 276.7 L127.3 275 L128.6 273.5 L128.8 271.5 L130 270 L129.7 268 L128.5 266.3 L127.5 264.5 L126.3 262.8 L124.8 261.3 L123.7 260 L122.6 258.6 L121.2 257.5 L120.1 256.1 L119 254.8 L118.3 253.2 L117.4 251.7 L117 250 L117.5 248.4 L117.2 246.7 L117.5 245 L117.2 243.3 L117.6 241.7 L117.3 240 L118.2 238.2 L119.3 236.7 L120.1 235 L121.5 234.2 L122.8 233.1 L124.4 232.5 L125.9 231.7 L127.5 231.1 L128.9 230.4 L129.8 228.9 L131.5 228.4 L132.7 227.3 L133.5 225.7 L135 225 L136.2 223.9 L137.2 222.5 L138.7 221.7 L140.2 220.9 L141 219.3 L142.5 218.5 L143.4 217 L144.8 216.1 L146.1 215.1 L146.7 213.4 L147.7 212.1 L148.9 210.9 L150.3 210 L151.1 208.4 L152.4 207.4 L153.6 206.2 L155 205.2 L155.7 203.7 L156.8 202.4 L158 201.3 L158.7 199.8 L160.2 198.8 L161.1 197.4 L160.9 195.9 L160.9 194.2 L159.7 192.7 L159.8 191 L159.5 189.4 L158.7 187.9 L158.6 186.2 L160.3 185.3 L161.5 184 L162.2 182.2 L163.9 181.4 L165.1 180.1 L166.4 178.6 L168.2 177.6 L169.4 175.9 L171.2 175 L171.7 173.5 L171.9 171.9 L172.4 170.3 L172.3 168.7 L171.1 166.9 L170.1 164.9"/>
<path d="M170 165 L171.7 165.5 L173.3 165.7 L175 166.2 L176 167.7 L176.2 169.5 L177 171.1 L177.9 172.5 L179.9 173.2 L181.5 174.4 L183.3 175.1 L185.1 176.1 L186.9 176.1 L188.6 175.6 L190.1 174.3 L192 174.5 L193.7 173.7 L195.6 173.3 L197.4 172.9 L199.3 173 L201.2 172.5 L202.7 173 L204.3 173.2 L206 173.1 L207.5 173.8 L209 172.8 L210.3 171.5 L211.3 170.1 L212.2 168.4 L213.5 167.3 L215.2 166.9 L216.9 167.2 L218.4 166.4 L220 166.1 L221.8 165.7 L223.3 164.4 L225 163.7 L226.7 164.1 L228.4 164.2 L230 165 L230.9 163.2 L231 161.2 L231.6 159.3 L232.5 157.5 L233.8 155.9 L235.6 155 L237.3 154 L238.7 152.6 L240.5 152.2 L242.3 152.2 L243.9 151.3 L245.8 151.4 L247.5 150.9 L248.8 149.3 L249.9 147.4 L250.5 145.7 L250.2 143.7 L250.6 141.8 L251.3 140 L252.4 138.5 L252.8 136.6 L253.7 135 L255 133.6 L256.4 132.3 L258 131.2 L258.2 129.5 L258.7 127.8 L259.5 126.2 L257.9 125.6 L256.6 124.4 L255.1 123.6 L253.4 122.6 L251.7 122 L250 121.3 L249.5 119.5 L248.7 118 L248.8 116.2 L247.2 115.1 L245.8 113.9 L244.4 112.6 L244 110.9 L243.6 109.3 L242.9 107.8 L242.7 106.1 L241.6 104.5 L240.3 103 L239.5 101.2"/>
<path d="M213.7 167.5 L213.4 169.3 L212.9 171.1 L212.3 172.8 L212.3 174.6 L211.9 176.4 L211.5 178.2 L211.3 180 L211.6 181.7 L211.9 183.4 L212.2 185.1 L213.2 186.6 L213.5 188.3 L213.9 190 L214.1 191.8 L214.8 193.4 L216 194.9 L215.8 196.8 L216.5 198.5 L217.4 200 L217.2 201.7 L217.4 203.4 L217.3 205.1 L216.6 206.7 L216.8 208.4 L216.3 210 L214.8 211.4 L213.4 212.8 L211.6 213.8 L210 215 L208.2 215.6 L206.7 216.7 L204.9 217.4 L203.3 218.3 L201.6 219 L200 220 L198.6 221 L196.8 221.2 L195.3 222 L193.9 222.9 L192.5 223.9 L191.8 225.5 L191 227 L190.2 228.3 L189.5 229.9 L188.1 231 L187.5 232.5 L186.4 234 L185.9 235.9 L184.6 237.3 L183.9 239 L183.7 241 L182.6 242.6 L181.2 243.8 L180.5 245.5 L179.1 246.8 L178.6 248.6 L177.7 250.1 L176.8 251.5 L176 253 L175.8 254.7 L175.2 256.3 L173.4 256.8 L171.6 256.6 L169.9 257.2 L168.4 258.2 L166.7 258.5 L165 258.9 L163.3 259.7 L161.2 259.7 L159.5 260.9 L157.5 261.2 L155.8 261.7 L154.2 262.3 L152.4 262.2 L150.9 263.2 L149.1 263.2 L147.5 263.9 L146 264.6 L144.5 265.6 L142.9 266.4 L141.1 266.8"/>
<path d="M175 256.2 L176.5 257.2 L177.9 258.3 L179.4 259.3 L181.2 259.9 L182.6 261 L184.3 261.9 L186.1 262.5 L187.6 263.7 L189.4 264.4 L191.2 265 L192.4 266.5 L193.6 268.1 L195.1 269.4 L194.4 271.2 L194 273 L192.8 274.4 L192.7 276.3 L190.8 277.4 L189.8 279.3 L187.9 280.4"/>
<path d="M248.7 152 L250.4 152.9 L251.8 154.2 L253.3 155.3 L254.9 156.3 L256.6 156.7 L258.1 157.5 L259.6 158.2 L261.1 159 L262.5 160.1 L264.3 159.3 L266.3 159.4 L268.1 158.8 L270 158.6 L271.5 157.6 L273.2 157 L274.6 155.8 L275.8 154.3 L277.4 153.6 L278.5 152.4 L280.2 151.9 L281.4 150.8 L282.7 149.8 L283.9 148.8 L285.1 147.6 L286.3 146.5 L287.2 145.1 L287.8 143.6 L289.2 142.7 L290 141.2 L291.7 141 L293.3 140.4 L295 139.9 L296.6 139.4 L298.3 139.1 L300 138.6 L301.8 137.7 L303.8 137.7 L305.7 137.1 L307.6 136.4 L309.2 136.5 L310.8 136.5 L312.5 136.8 L314.2 136.4 L315.8 137 L317.5 137 L319.1 136.2 L320.7 135.6 L322.5 135.4 L324.1 134.6 L325.8 134.2 L327.5 133.7 L328.9 132.7 L330.2 131.6 L331.8 131 L333.1 130 L334.5 129.1 L335.9 128.2 L337.5 127.4 L339.1 126.6 L340.9 126.6 L342.6 126.4 L344.1 125.4 L345.9 125.2 L347.6 124.7 L349.5 124.5 L351.3 125 L353.1 126 L355 126.3 L356.5 127.3 L358.3 127.8 L359.7 129 L361.1 130.1"/>
<path d="M265 161.2 L265 162.8 L264.2 164.3 L263.9 165.9 L263.5 167.5 L264.8 168.9 L265.8 170.5 L266.4 172.3 L267.4 173.7 L268.4 175.1 L268.8 176.8 L269.8 178.2 L270.2 179.8 L271.4 181.1 L270.5 182.9 L269 184.2 L268.5 186 L267.6 187.6 L266.4 188.8 L265.6 190.3 L265.1 192 L263.9 193.2 L262.9 194.6 L262.4 196.2 L261.1 197.5 L260.6 199.1 L259.6 200.4 L258.9 202 L257.9 203.4 L256.4 204.4 L256 206.1 L254.8 207.4 L254 209 L252.8 210.3 L251.6 211.7 L250.7 213.2 L250 215 L248.7 216.2 L247.6 217.6 L246.9 219.3 L245.9 220.8 L244.3 221.9 L243.5 223.5 L242.6 225.1 L241.5 226.5 L240.6 228 L239.1 229.1 L238.2 230.7 L237.4 232.4 L235.8 233.4 L235.1 235.1 L234.1 236.4 L233.2 237.8 L231.6 238.6 L231 240.2 L229.6 241.2 L228.8 242.7 L227.5 243.7 L226.1 244.6 L225 245.8 L223.8 246.9 L222.5 247.9 L221.3 249 L220 250 L219 251.3 L217.5 252 L216.4 253.2 L214.8 253.7 L213.6 254.8 L213.4 256.7 L212.7 258.2 L211.7 259.6 L211.2 261.2 L212.4 262.5 L212.7 264.2 L213.4 265.8 L214.6 267 L215.5 268.5 L216.2 270 L217.2 271.5 L218.9 272.3 L220.1 273.6 L221.3 274.9"/>
<path d="M267.5 173.7 L269.2 174.7 L271.4 174.5 L273.1 175.8 L275 176.1 L276.6 177 L278.4 176.6 L279.9 177.8 L281.6 178 L283.3 178.6 L284.9 178.9 L286.7 178.7 L288.4 179 L290 179.5 L291.7 179.4 L293.4 179.6 L295 179.9 L296.5 181.1 L298.2 182 L299.9 182.6 L300.4 184.1 L300 185.9 L300.6 187.5 L301 189.1 L301 190.8 L301.2 192.5 L301.3 194.4 L300.5 196.2 L300.4 198.1 L300 200 L298.8 201.5 L298.2 203.3 L297.6 205 L296.4 206.5 L295.4 208.1 L295 210 L294 211.7 L294.2 213.9 L293.4 215.7 L292.6 217.5 L292.4 219.2 L293 220.9 L293.3 222.5 L294 224.1 L294.2 225.8 L294.3 227.5 L294.7 229.4 L294.4 231.3 L294.3 233.2 L293.7 235 L292.7 236.4 L292.2 238 L291.6 239.5 L290.7 241 L290.1 242.6 L288.7 243.8 L288.1 245.6 L287.2 247.1 L286.1 248.6 L284.9 249.9 L283.7 251.2 L281.9 251.9 L280.8 253.3 L279.3 254.3 L278.1 255.7 L276.2 256.1 L274.9 257.4 L273.5 258.5 L272.2 259.8 L270.5 260.5 L269.1 261.6 L267.4 262.4 L266 263.8 L264.8 265.5 L263.9 267.3 L262.7 268.8"/>
<path d="M300 182.5 L301.6 182 L303.3 181.6 L305 181.2 L306.7 180.8 L308.3 180.3 L310 180.1 L311.7 179.4 L313.6 179.4 L315.3 178.5 L317.1 178.4 L318.9 178.1 L320.7 177.5 L322.5 177.6 L324.3 177 L326.1 177 L327.9 176.8 L329.6 175.9 L331.5 176.1 L333.3 175.6 L335 175.1 L336.8 175 L338.3 175.8 L340 176.4 L341.7 176.5 L343.4 176.8 L345 177.4 L346.4 178.4 L347.3 179.8 L348.8 180.5 L350 181.6 L351.2 182.8 L352.4 183.9 L354.2 183.5 L355.8 183.3 L357.5 184.1 L359.2 184 L360.8 184 L362.5 183.7 L364.2 183.9 L365.9 184.2 L367.5 184.8 L369.2 185.3 L370.9 185.4 L372.5 186.3 L374.1 186.6 L375.9 186.2 L377.5 187.2 L379.2 187.1 L380.8 187.7 L382.5 187.5 L384.1 188.4 L385.8 188.7 L387.5 189.4 L389.2 190 L391 190.2 L392.6 191 L394.3 191.6 L395.9 192.4 L397.5 193 L399.2 193.8 L400.8 194.5 L402.5 195 L404.1 195.9 L405.5 197 L406.8 198.3 L408.4 199.2 L410 200.1 L410 201.9 L410.8 203.7 L411.3 205.6 L411.4 207.5 L411.1 209.5 L410.8 211.3 L409.8 213.1 L409.3 215 L411 216.7 L411.9 218.7"/>
<path d="M285 147.5 L286.7 147.9 L288.4 148.5 L290.2 149 L292 148.9 L293.6 149.4 L295.2 149.6 L296.8 149.7 L298.4 149.5 L300 149.8 L301.7 150.7 L303.2 151.9 L305 152.4 L305.7 154 L306.6 155.4 L306.9 157.1 L307.6 158.7 L308.7 160 L309.7 161.4 L311.5 161.7 L312.4 163.1 L314.1 163 L315.6 161.9 L317.2 162.1 L318.8 161.6 L320.4 161.5 L321.8 160.5 L323.4 160.4 L325 160.2 L326.6 159.6 L328.1 158.9 L329.6 158.2 L331.4 158.5 L332.8 157.6 L334.5 157.6 L335.8 156.4 L337.5 156.3 L338.4 154.6 L339.1 153 L338.9 151 L339.9 149.5 L340.2 147.7 L341.3 146.2 L342.8 145.9 L344.5 146.3 L346 145.6 L347.7 145.8 L349.3 145.7 L350.9 144.9 L352.5 145 L354.3 145.7 L356.2 145.6 L358.1 145.8 L360 146.1 L361.7 145.8 L363 144.7 L364.7 144.4 L366.3 143.7 L367.8 143.1 L369.3 142.1 L371 142 L372.6 141.4 L374.3 141.3 L376.1 141.6 L377.8 142.3 L379.6 142.3 L381.5 142.3 L383.3 142.3 L385 143.1 L386.5 143.9 L387.8 145 L389.3 145.8 L390.5 147.1 L391.9 148.1"/>
<path d="M358.7 249.5 L360.4 248.6 L362.3 248.3 L363.9 247.4 L365.6 246.6 L367.5 246.2 L368.9 245.3 L370.3 244.4 L371.8 243.5 L373.1 242.5 L374.5 241.6 L376.2 241 L377.5 239.9 L379.1 239.5 L380.7 239 L382.3 238.4 L383.9 237.9 L385.2 236.7 L386.8 236 L388.5 235.8 L390 235 L391.3 233.9 L392.9 233.3 L394.5 232.6 L395.9 231.7 L397 230.3 L398.5 229.4 L399.9 228.5 L401.7 228.1 L402.9 226.5 L404.6 225.9 L406 224.7 L407.5 223.7 L409.2 224.6 L410.7 225.6 L412.5 226.2 L414.4 226.7 L416.4 227.1 L418.1 228.1 L419.9 228.9 L421.4 227.7 L423.1 227.4 L424.6 226.6 L425.9 225.5 L427.4 224.9 L428.6 223.8 L429.5 222.4 L430.4 221.2 L431.5 219.9 L432.4 218.6"/>
<path d="M322.5 292.5 L324.1 292.4 L325.8 292.2 L327.3 291.6 L328.9 291.3 L330.4 290.6 L332.3 290.7 L333.5 289.3 L335.1 288.7 L336.8 288.4 L338.4 288.1 L340.1 288 L341.7 287.7 L343.3 287.3 L345 287.4 L346.6 286.7 L348.4 286.3 L349.9 285.3 L351.5 284.5 L353.2 284 L355 283.7 L356.6 283.2 L358.4 283.1 L360.1 282.8 L361.6 281.9 L363.2 281.2 L365 281.3 L366.8 280.9 L368.3 279.8 L370.1 279.5 L371.6 278.5 L373.5 278.6 L375.1 277.7 L376.8 277.2 L378.5 276.7 L379.9 275.3 L381.7 275 L383.4 274.6 L385.1 273.9 L386.6 272.7 L388.1 271.6 L390.1 271.3 L391.5 269.9 L393.4 269.8 L394.9 268.4 L396.4 267.8 L397.8 266.9 L399 265.7 L400.7 265.1 L402.1 264.3 L403.5 263.3 L405.1 262.7 L406.7 261.9 L408.3 260.9 L409.3 259.2 L410.7 258 L412.5 257.4 L414.3 256.7 L416.3 257.1 L418.1 256.2 L420 256 L421.1 254.8 L422.4 253.6 L423.9 252.7 L424.9 251.2 L426.1 249.9 L427.4 248.9 L427.9 247.1 L429.1 246 L430.6 245.1 L431.7 243.9 L432.3 242.3 L432.6 240.5 L433.8 238.8 L434.6 236.9 L434.7 234.9 L434.8 233.3 L434.6 231.7 L434.3 230 L434.3 228.4 L434.3 226.7 L434.5 225 L433.6 223.3 L433.8 221.4 L433.7 219.6 L433.1 217.9 L432.2 216.3"/>
<path d="M322.5 292.5 L320.7 292.2 L319.3 293 L317.7 293.2 L316.1 293.7 L314.8 295.2 L313 295.2 L311.3 295.5 L309.9 296.5 L308.4 296.1 L306.6 296.3 L305.2 295.3 L303.4 294.7 L302.2 296.6 L300.5 296.5 L299.5 294 L297.3 292.9 L296.7 294.5 L295.5 295.7 L293.9 296.6 L292.7 296 L291.5 294.8 L290.3 293.5 L288.9 295 L288.7 296.8 L288.2 298.6 L286.3 297.7 L284.4 298.1 L283 297.1 L282.5 298.7 L280.7 299.7 L280.2 301.6 L278.2 302.4 L277.2 304.4 L275.7 305.6 L274 306.6 L272.2 305.5 L270.7 304.9 L268.9 305.6 L267.3 304.9 L265.6 305.2 L264.3 303.6 L262.5 303.8 L260.9 303.4 L259.3 304.2 L257.8 305.6 L256.3 307 L255.1 308.6 L253 309 L251.5 310.3 L250 311.5 L249.2 313.1 L247 313.3 L245.8 314.5 L244.9 316.1 L242.8 316 L241.2 317.3 L239.5 318.3 L237.6 319 L235.9 319.3 L234.5 320.2 L233.1 321.1 L231.1 320.9 L229.9 322.2 L228.3 323.8 L226 323.1 L224.7 325.2 L222.5 324.9"/>
<path d="M322.5 292.5 L323.1 294.2 L322.2 295.9 L322.4 297.5 L322.6 299.2 L323.5 300.6 L323.1 302.5 L323.5 304 L324.4 305.4 L324.9 307 L325 308.7 L325 310.4 L324.1 311.8 L323.5 313.4 L323.6 315.1 L323.3 316.7 L324.7 318 L325.1 319.6 L325.9 321 L325.3 322.9 L326.1 324.7 L326.6 326.6 L327.8 328.3 L329 329.9 L329.2 331.7 L329.2 333.5 L330.1 335.1 L329 337.1 L330.1 338.7 L328.6 340.3 L326.4 340.5 L325.2 342.3 L323.1 342.1 L321.9 343.6 L320.2 344.2 L318.8 345.1 L318.4 346.9 L318.6 348.8 L318.5 350.7 L317.2 352.5 L318.5 354.2 L318.5 356.3"/>
<path d="M330 338.7 L330.7 340.5 L332.9 340.8 L334.3 341.9 L334.3 344.4 L336.4 344.8 L338.1 345.4 L339 347.2 L340.9 347.8 L341.8 349.6 L343.8 349.8 L344.4 351.6 L346.4 351.7 L347.4 353.1 L348.3 354.6 L349.9 355.1 L351.4 356.3 L353.2 356.6 L355.3 356.1 L356.4 358.1 L358.3 358.2 L360.1 358.5 L361.8 359.2 L362.7 361.2 L364.4 361.8 L365.6 363.4 L367.4 363.9 L368.1 365.7 L370 366.5 L368.5 367.4 L367.3 368.8 L366.5 370.4 L364.4 370.7 L363.8 372.6 L362.6 373.8 L361.7 375.2 L361.5 376.9 L361.7 378.8 L360.2 379.9 L360 382 L360.7 384 L360.4 386 L360.9 387.7 L362.6 388.8 L362.1 391.3 L363.7 392.5 L364.9 393.6 L366.3 394.5 L367.3 395.9 L368.2 397.4 L370.2 397.6 L371.4 398.8 L372.5 400.1 L374 400.8 L374.9 402.2 L376.2 403.2 L377.6 404 L378.6 405.4 L380 406.2 L382 406.2 L383.2 408.4 L385.3 408.1 L387 408.9"/>
<path d="M420 256.2 L419.9 258.1 L420.5 259.6 L421.2 261.2 L422.8 262.4 L421.7 264.3 L421.4 266.3 L420.6 268.1 L420.3 270.1 L419.7 272 L420.1 273.4 L421 274.7 L421.2 276.4 L422.4 277.6 L422.5 279.3 L421.4 281.2 L421.4 283.2 L420.8 285 L420.1 286.8 L420 288.5 L419.9 290.2 L418.1 291.2 L417.9 292.8 L417.4 294.4 L416.6 296 L415.3 297.4 L415.6 299.4 L414.5 300.9 L414.6 302.9 L413.9 304.7 L413.6 306.6 L413.3 308.2 L412.9 309.9 L411.5 311.1 L410.4 312.3 L409.9 314 L408.7 315 L407.1 315.7 L406.1 317.3 L404.6 318 L402.9 318.8 L400.9 318.7 L399.7 320.4 L397.9 320.9 L397 322.9 L395.3 324.6 L396.6 325 L397.7 326.3 L398.9 327.6 L400.7 327.9 L401.7 329.3 L402.8 330.6 L403.7 332.1 L404.2 333.8 L405.8 334.7 L407.4 335.2 L409 336 L409.9 337.7 L410.6 339 L411.4 340.4 L413.2 341.1 L413.7 342.7 L414.4 344.2 L416 345.5 L416.9 347.4 L419.3 347.9 L420 350 L422.3 349.9 L423.7 351.4 L425.7 351.7 L426.8 353.6 L428.1 354.6 L429.2 356 L430.8 356.7 L432.3 357.5 L433.4 359.1 L433.6 361.3 L435.1 362.9 L434.4 364.7 L432.6 366 L430.9 367.3 L428.8 368.3 L427.4 369.5 L425.4 369.8 L423.8 370.8 L421.7 370.7 L420 371.5 L418.8 373.2 L417.4 374.3 L415.6 374.3 L414.3 375.5 L412.5 375.6 L412.6 377.6 L414.2 379.2 L414.5 381.2 L412.5 382.7 L411.9 385 L411.3 386.8 L409.6 388 L409.1 389.9 L408.5 391.6 L408.6 393.3 L408.8 395 L408.8 397.1 L409 399.3 L409.9 401.2 L409.1 402.8 L407.7 404 L406.3 405.1 L404.5 404.7 L402.9 405.2 L401.2 405.5"/>
<path d="M435.3 362.8 L437 362.9 L438.7 362.9 L440.3 361.9 L442.1 362.8 L443.7 361.8 L445.4 361.9 L446.8 360.9 L448.6 361.4 L450.1 360.4 L451.8 360.8 L453.4 360.6 L455 360.2 L456.5 359.2 L458.2 358.9 L459.8 358.2 L460.8 356.5 L462.5 356.2 L464.2 356 L465.6 355 L467 353.9 L468.4 353 L470.1 352.7 L471.3 351.3 L473.1 351.3 L474.7 350.6 L475.8 349.1 L477.5 348.6 L478.8 347.4 L480.3 346.5"/>
<path d="M326.2 417.5 L328 418 L328.5 420.8 L330.2 421.5 L332.8 420.7 L333.3 423.3 L335.3 423.2 L337.8 421.8 L337.7 425.9 L340.2 424.6 L341.8 425.7 L342.7 427.3 L343.5 429 L345.5 429.5 L346.2 431.4 L347.4 432.7 L349.5 432.3 L350.5 434 L352.4 433.9 L354 435.2 L356 432.9 L357.6 433.8 L359.2 434.4 L361 433.2 L362.4 435.9 L364.3 435.3 L365.7 432.9 L367.8 434.5 L369.4 433.6 L371.1 433.1 L373.3 434.6 L373.2 436.8 L375.5 437.5 L374.9 440.1 L375.7 441.5 L377.8 442.3 L375.9 445.2 L379.6 445.2 L379.3 447.2 L379.6 449.5 L382.4 448.4 L383.6 450 L384.9 451.3 L386.5 449.8 L388.3 448.7 L390 447.5 L391.3 449.1 L393.9 449.8 L393.2 452.9 L395.7 452.2 L397.7 451.8 L399.1 453.6 L400.4 455.7 L402.4 455.2 L404.1 454.6 L405.8 454.5 L407.4 453.2 L409.2 454.6 L410.8 453.3 L412.4 452.8 L414.8 452.9 L416.8 453.4 L417.9 456.3 L419.8 456.9 L420.9 458 L423.5 457.1 L425 457.7 L424.8 461.3 L427.4 460.3 L429.3 460.5 L429.9 462.6 L431.8 462.3 L433.4 461.4 L434.9 460.4 L436.4 459.2 L438.3 459.3 L440 458.6 L441.9 458.9 L443.4 457.5 L445.1 456.6 L447.5 458.6 L448.5 455.5 L450.2 457.5 L452.1 456.4 L453.6 457.6"/>
</g></g>
<path d="M10.5 154 L35 140 L60 125 L82.5 110.8 L95.6 104.7 L97.2 103.7 L96.6 102.2 L95.3 100 L96.2 97.8 L98.4 96.9 L101.9 97.2 L103.4 98.1 L103.6 101.9 L105.6 101.9 L110.6 99.7 L116.2 97.8 L122.5 96.2 L124.1 98.1 L124.1 101.2 L125.3 103.4 L123.7 105.6 L120.9 108.4 L123.4 110.3 L122.5 112.2 L124.4 115 L124.7 117.5 L127.5 119.4 L130 122.5 L141.2 121.2 L142.5 113.7 L151.2 111.2 L152.5 113.7 L160 113.7 L170 116.2 L177 120 L178.7 127.5 L179.5 131.2 L190 130 L192.5 132.5 L198.7 128.7 L210 123.7 L215 121.2 L227.5 113.7 L232.5 108.7 L239.5 101.2 L236.2 97 L252 96.2 L253 99.5 L261.2 100 L264.5 97 L263.7 91.2 L258 85 L257.5 80.5 L267.5 77 L279.5 73.7 L280.5 78.7 L278.7 84.5 L286.2 83.7 L295 85 L300 76.2 L303.7 73.7 L310 68.7 L317.5 71.2 L319.5 76.2 L317.5 83.7 L311.2 84.5 L310 86.2 L316.2 88 L325 87 L330 91.2 L335 86.2 L341.2 78.7 L345 72.5 L347.5 76.2 L352.5 77.5 L354.5 85 L352 91.2 L358.7 102.5 L360 107.5 L366.2 108.7 L371.2 110 L373.7 119.5 L386.2 118.7 L387.5 117 L396.2 118.7 L400 115.5 L406.2 112 L411.2 113.7 L415.5 120 L416.2 126.2 L422.5 130 L430 135 L440 136.2 L446.2 138.7 L447 142.5 L453 140 L455.5 143.7 L451.2 148.7 L453 153.7 L448.7 157.5 L450 162.5 L446.2 166.2 L445 172.5 L446.2 177.5 L441.2 182.5 L441.2 187.5 L437.5 193.7 L431.2 201.2 L428.5 206 L428.3 208.2 L429.9 211.7 L431.8 214.5 L435.4 215.6 L436.6 217.6 L437 222 L435.8 224.7 L435.4 227.5 L437 227.9 L439.7 226.3 L441.7 227.5 L443.3 223.9 L445.6 221.6 L447.2 222.4 L448 224.7 L450.4 226.7 L453.1 225.9 L456.3 227.1 L457.9 225.5 L460 225 L462.5 227.5 L466.2 227.5 L471.2 225.6 L476.2 227.5 L480 227.5 L482.5 230 L483.1 234.4 L486.9 233.7 L492.5 234.4 L495 238.1 L497.5 243.1 L501.2 247.5 L503.1 251.2 L501.9 254.4 L506.2 253.1 L514.4 254.4 L513.1 258.1 L510 263.1 L506.9 265 L503.1 269.4 L504.4 274.5 L508.1 280.6 L512.5 281.2 L520 280.6 L526.2 283.7 L525.6 288.1 L530 291.2 L530 297.5 L528.1 302.5 L525.6 306.9 L530 310.6 L533.7 313.7 L535 318.1 L530.6 320.6 L528.7 322.5 L524.4 319.4 L520.6 321.9 L519 326.5 L519.2 328.7 L516.9 331.1 L512.2 332.5 L508.4 334.4 L507 337.2 L503.7 339 L502.8 341.9 L505.1 345.1 L506.1 349.8 L502.3 350.3 L500 352.2 L497.8 354.4 L494.8 352.2 L490.6 352.6 L489.7 355 L487.3 355.5 L484 353.1 L483.1 349.8 L479.4 351.2 L474.7 353.1 L474.4 360.6 L470 362.5 L466.2 365 L464.4 372.5 L460.6 376.2 L461.2 381.2 L458.7 385 L455.6 387.5 L456.2 391.2 L458.1 392.5 L456.9 395 L450.6 398.1 L449.4 403.1 L446.9 408.7 L445 411.2 L446.9 413 L450.6 414.4 L451.2 416.9 L447.5 418.7 L445.6 423.7 L446.2 428.7 L447.5 433.7 L452.5 433.7 L455 438.7 L458.1 443.1 L458.1 447.5 L462.5 448.7 L465 451.9 L462.8 455.5 L464.5 459.1 L469.2 461.2 L468.5 466.2 L466 469.2 L466.7 473.2 L461.7 476.7 L463.8 480.2 L461.7 485.2 L456.8 486.6 L451.9 483.8 L449.1 485.2 L447.7 488 L442.7 488.7 L438.5 486.6 L433.6 485.9 L430.8 488.7 L428.7 495 L425.2 491.5 L419.5 492.2 L414.6 495 L409 497.8 L406.9 493.6 L407.6 490.1 L405.5 486.6 L404.1 481.6 L402 477.4 L400.8 475.3 L396.5 472.5 L391.6 471.1 L387.4 473.9 L386.7 469.7 L388.8 465.5 L386 462.7 L382.5 459.1 L379.7 455.6 L376.9 457.7 L371.2 456.3 L366.3 455.6 L365.6 452.1 L361.4 451.4 L358.6 445.8 L356.5 440.9 L353 442.3 L348 440.2 L343.1 437.3 L340.3 433.1 L336.1 435.2 L329 435.9 L323.4 434.5 L324.8 428.9 L322.7 424.7 L322 419.1 L324.8 414.8 L326.2 409.2 L323.1 405 L318.7 401.9 L313.7 400 L314.4 396.2 L317.5 392.5 L318.1 386.2 L320 382.5 L318.1 378.7 L320 376.9 L321.2 373.1 L323.1 370.6 L324.4 367.5 L325.6 363.7 L328.1 361.2 L325 358.1 L318.1 356.9 L315 359.4 L310.6 362.5 L307.5 366.9 L302.2 371.7 L298.7 375.9 L300.3 381 L299.4 386 L300.4 391.6 L295.9 392.8 L289.5 394.2 L282.5 396.3 L277.6 399.8 L272.7 402.7 L266.3 404.1 L258.6 402.7 L252.3 401.2 L246.6 398.4 L238.9 399.1 L231.9 399.8 L229.1 396.3 L224.8 394.9 L227 390.7 L223.4 387.9 L225.5 383.7 L230.5 380.2 L236.1 376.6 L234.7 371.7 L233.3 366.1 L230.5 361.9 L222.7 361.9 L224.1 356.2 L227 350.6 L225.5 345 L228.7 341.2 L233.7 335 L230 332.5 L227 336.2 L223.7 335 L222.5 327.5 L218.7 323.7 L213.7 318.7 L208.7 314.5 L202.5 316.2 L196.2 318 L191.2 319.5 L187.5 317.5 L181.2 315.5 L175 315 L169.5 316.2 L168.7 321.2 L166.2 325 L163.7 321.2 L161.2 315 L158.7 308.7 L160 300 L158.7 291.2 L153.7 285 L145 285 L137.5 283.7 L139.5 280 L136.2 276.2 L131.2 278.7 L125 281.2 L120 282.5 L112.5 276.2 L108.7 270 L110 262.5 L106.2 256.2 L103.7 248.7 L102.5 238.7 L97.5 235 L93.7 228.7 L90 221.2 L86.2 220 L80 221.2 L73.7 223.7 L67.5 227.5 L61.2 231.2 L60 236.2 L56.2 238.7 L48.7 235 L42.5 230 L37.5 222.5 L32.5 215 L26.2 213.7 L21.2 210 L17 203.7 L18 197.5 L15.5 190 L17.5 175 L13 165Z" fill="none" stroke="#1c1c1c" stroke-width="1.8" stroke-linejoin="round"/>
<path d="M497.8 354 L497.6 355.8" stroke="#1c1c1c" stroke-width="1.6"/><ellipse cx="498.4" cy="358.5" rx="2.7" ry="2.9" fill="#fff" stroke="#1c1c1c" stroke-width="1.7"/>
<ellipse cx="331.8" cy="82" rx="2.5" ry="3.5" fill="#1c1c1c" transform="rotate(25 331.8 82)"/>
<rect x="563" y="96.20" width="26" height="39.86" fill="#a50026"/>
<rect x="563" y="135.76" width="26" height="39.86" fill="#da372a"/>
<rect x="563" y="175.32" width="26" height="39.86" fill="#f67b4a"/>
<rect x="563" y="214.88" width="26" height="39.86" fill="#fdbf71"/>
<rect x="563" y="254.44" width="26" height="39.86" fill="#feeea5"/>
<rect x="563" y="294.00" width="26" height="39.86" fill="#eef8df"/>
<rect x="563" y="333.56" width="26" height="39.86" fill="#bde2ee"/>
<rect x="563" y="373.12" width="26" height="39.86" fill="#80b7d6"/>
<rect x="563" y="412.68" width="26" height="39.86" fill="#4a7bb7"/>
<rect x="563" y="452.24" width="26" height="39.86" fill="#313695"/>
<text transform="translate(601.3 102.3) scale(0.955 1)" font-size="14.5">20</text>
<text transform="translate(601.3 141.8) scale(0.955 1)" font-size="14.5">19.5</text>
<text transform="translate(601.3 181.2) scale(0.955 1)" font-size="14.5">19</text>
<text transform="translate(601.3 220.7) scale(0.955 1)" font-size="14.5">18.5</text>
<text transform="translate(601.3 260.1) scale(0.955 1)" font-size="14.5">18</text>
<text transform="translate(601.3 299.6) scale(0.955 1)" font-size="14.5">17.5</text>
<text transform="translate(601.3 339.1) scale(0.955 1)" font-size="14.5">17</text>
<text transform="translate(601.3 378.5) scale(0.955 1)" font-size="14.5">16.5</text>
<text transform="translate(601.3 418.0) scale(0.955 1)" font-size="14.5">16</text>
<text transform="translate(601.3 457.4) scale(0.955 1)" font-size="14.5">15.5</text>
<text transform="translate(601.3 496.9) scale(0.955 1)" font-size="14.5">15</text>
<text x="617" y="74" font-size="14.5" font-weight="bold">°C</text>
</svg>
</body></html>
